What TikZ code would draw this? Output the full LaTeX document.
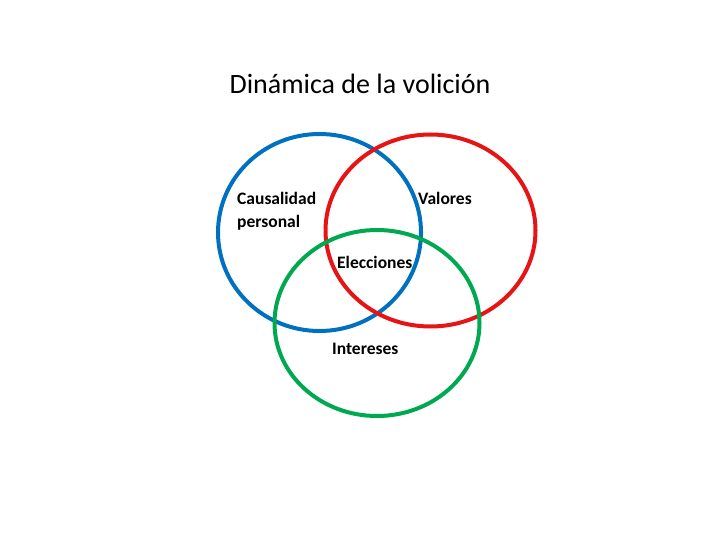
\documentclass[tikz,border=0pt]{standalone}
\usepackage{fontspec}
\setmainfont{Carlito}
\begin{document}
\begin{tikzpicture}[x=1pt,y=-1pt,
  ring/.style={line width=4pt},
  lbl/.style={font=\fontsize{17.5}{22}\selectfont\bfseries, inner sep=0pt, anchor=base west, align=left}]
\useasboundingbox (0,0) rectangle (720,540);
\node[font=\fontsize{28}{32}\selectfont, inner sep=0pt, anchor=base] (title) at (360,93.5) {Dinámica de la volición};
\draw[ring, draw={rgb,255:red,0;green,112;blue,192}] (319.5,232.5) ellipse [x radius=101.5, y radius=98.5];
\draw[ring, draw={rgb,255:red,230;green,20;blue,20}] (430.5,230.5) ellipse [x radius=105, y radius=96];
\draw[ring, draw={rgb,255:red,0;green,168;blue,80}] (377,323) ellipse [x radius=102.5, y radius=93];
\node[lbl] (caus) at (237,205) {Causalidad};
\node[lbl] (pers) at (237,227) {personal};
\node[lbl] (val) at (418,205) {Valores};
\node[lbl] (elec) at (337,268) {Elecciones};
\node[lbl] (int) at (332,354) {Intereses};
\end{tikzpicture}
\end{document}
